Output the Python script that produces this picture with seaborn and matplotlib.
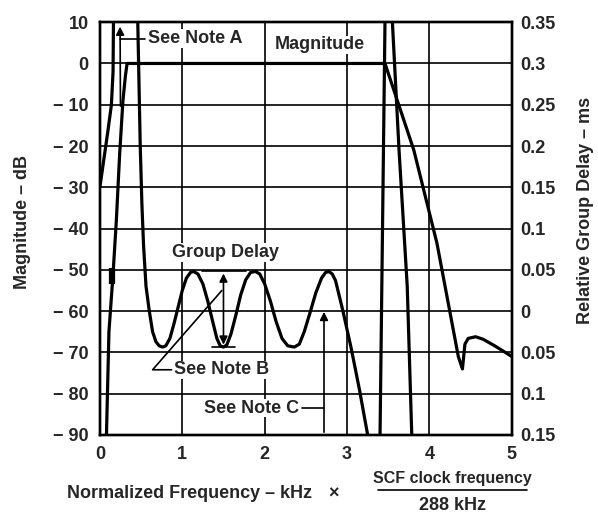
import matplotlib
matplotlib.use("Agg")
import matplotlib.pyplot as plt
import seaborn as sns
import pandas as pd

# Magnitude response (dB, left axis)
mag_freq = [0.08, 0.11, 0.16, 0.20, 0.24, 0.28, 0.31, 0.33, 1.0, 2.0, 3.0, 3.46,
            3.81, 4.09, 4.35, 4.40, 4.43, 4.47, 4.56, 4.65, 4.80, 5.0]
mag_db = [-90, -65, -51, -38, -22, -9, -3, 0, 0, 0, 0, 0,
          -21, -43.5, -71, -74, -68, -66.6, -66.2, -66.8, -68.5, -71]

# Relative group delay (ms, right axis), drawn as separate branches
gd_low_freq = [0.0, 0.05, 0.10, 0.14, 0.16, 0.165]
gd_low_ms = [0.15, 0.185, 0.22, 0.25, 0.29, 0.35]

gd_band_freq = [0.46, 0.47, 0.49, 0.51, 0.53, 0.56, 0.60, 0.64, 0.68, 0.72, 0.76, 0.80,
                0.85, 0.90, 0.95, 1.00, 1.05, 1.10, 1.14, 1.19, 1.25, 1.31, 1.37, 1.42,
                1.46, 1.50, 1.54, 1.59, 1.65, 1.71, 1.77, 1.83, 1.89, 1.94, 2.00, 2.07,
                2.14, 2.21, 2.28, 2.36, 2.42, 2.48, 2.55, 2.62, 2.69, 2.74, 2.78, 2.82,
                2.86, 2.95, 3.05, 3.15, 3.25]
gd_band_ms = [0.35, 0.30, 0.20, 0.13, 0.08, 0.03, 0.0, -0.025, -0.037, -0.042, -0.0435, -0.042,
              -0.033, -0.015, 0.005, 0.025, 0.040, 0.047, 0.048, 0.045, 0.033, 0.012, -0.013, -0.033,
              -0.042, -0.0435, -0.041, -0.028, -0.005, 0.020, 0.038, 0.047, 0.048, 0.045, 0.033, 0.012,
              -0.013, -0.033, -0.042, -0.0435, -0.040, -0.025, -0.002, 0.022, 0.040, 0.047, 0.048, 0.045,
              0.037, 0.0, -0.045, -0.095, -0.15]

gd_edge_freq = [3.40, 3.46]
gd_edge_ms = [-0.15, 0.35]

gd_stop_freq = [3.55, 3.63, 3.73, 3.785]
gd_stop_ms = [0.35, 0.196, 0.03, -0.15]

x_ticks = [0, 1, 2, 3, 4, 5]
db_ticks = [10, 0, -10, -20, -30, -40, -50, -60, -70, -80, -90]
db_labels = ["10", "0", "\u2212 10", "\u2212 20", "\u2212 30", "\u2212 40", "\u2212 50",
             "\u2212 60", "\u2212 70", "\u2212 80", "\u2212 90"]
ms_ticks = [0.35, 0.30, 0.25, 0.20, 0.15, 0.10, 0.05, 0.0, -0.05, -0.10, -0.15]
ms_labels = ["0.35", "0.3", "0.25", "0.2", "0.15", "0.1", "0.05", "0", "0.05", "0.1", "0.15"]

sns.set_style("white")
plt.rcParams["font.family"] = ["Liberation Sans", "DejaVu Sans"]
plt.rcParams["font.weight"] = "bold"
FS = 13
LW = 2.3

fig = plt.figure(figsize=(5.98, 5.16), dpi=100)
ax = fig.add_axes([0.167, 0.157, 0.689, 0.800])
ax2 = ax.twinx()

ax.set_xlim(0, 5)
ax.set_ylim(-90, 10)
ax2.set_ylim(-0.15, 0.35)

ax.set_xticks(x_ticks)
ax.set_xticklabels([str(t) for t in x_ticks], fontsize=FS, fontweight="bold")
ax.set_yticks(db_ticks)
ax.set_yticklabels(db_labels, fontsize=FS, fontweight="bold")
ax2.set_yticks(ms_ticks)
ax2.set_yticklabels(ms_labels, fontsize=FS, fontweight="bold")
ax.tick_params(length=0, pad=8)
ax2.tick_params(length=0, pad=6)
ax.grid(True, color="black", lw=1.2)

for a in (ax, ax2):
    for s in a.spines.values():
        s.set_color("black")
        s.set_linewidth(1.7)

# curves
mag_df = pd.DataFrame({"f": mag_freq, "v": mag_db})
sns.lineplot(data=mag_df, x="f", y="v", ax=ax, color="black", lw=LW, sort=False, estimator=None)
for fx, fy in [(gd_low_freq, gd_low_ms), (gd_band_freq, gd_band_ms),
               (gd_edge_freq, gd_edge_ms), (gd_stop_freq, gd_stop_ms)]:
    sns.lineplot(x=fx, y=fy, ax=ax2, color="black", lw=LW, sort=False, estimator=None)
ax.plot([0.145, 0.145], [-49.5, -53.5], color="black", lw=4.5, solid_capstyle="butt")

ax.set_xlabel("")
ax.set_ylabel("Magnitude \u2013 dB", fontsize=FS, fontweight="bold")
ax.yaxis.set_label_coords(-0.168, 0.515)
ax2.set_ylabel("Relative Group Delay \u2013 ms", fontsize=FS, fontweight="bold", rotation=90)
ax2.yaxis.set_label_coords(1.158, 0.545)

# Note A
ax.annotate("", xy=(0.245, 9.6), xytext=(0.25, -11),
            arrowprops=dict(arrowstyle="-|>", color="black", lw=1.2, mutation_scale=12))
ax.plot([0.25, 0.55], [6, 6], color="black", lw=1.2)
ax.text(0.58, 6, "See Note A", fontsize=FS, fontweight="bold", va="center", ha="left",
        bbox=dict(facecolor="white", edgecolor="none", pad=0.5))

ax.text(2.67, 4.5, "Magnitude", fontsize=FS, fontweight="bold", va="center", ha="center",
        bbox=dict(facecolor="white", edgecolor="none", pad=0.5))

# Group delay ripple marker
ax2.plot([1.24, 1.77], [0.049, 0.049], color="black", lw=1.2)
ax2.plot([1.36, 1.64], [-0.044, -0.044], color="black", lw=1.2)
ax2.annotate("", xy=(1.5, 0.049), xytext=(1.5, -0.044),
             arrowprops=dict(arrowstyle="<|-|>", color="black", lw=1.2, mutation_scale=12))
ax.text(1.52, -45.8, "Group Delay", fontsize=FS, fontweight="bold", va="center", ha="center",
        bbox=dict(facecolor="white", edgecolor="none", pad=0.5))

# Note B
ax.plot([1.48, 0.64, 0.87], [-55, -74.2, -74.2], color="black", lw=1.2)
ax.text(0.9, -74.2, "See Note B", fontsize=FS, fontweight="bold", va="center", ha="left",
        bbox=dict(facecolor="white", edgecolor="none", pad=0.5))

# Note C
ax.annotate("", xy=(2.72, -59.5), xytext=(2.72, -90),
            arrowprops=dict(arrowstyle="-|>", color="black", lw=1.2, mutation_scale=12))
ax.plot([2.45, 2.72], [-83.5, -83.5], color="black", lw=1.2)
ax.text(2.42, -83.5, "See Note C", fontsize=FS, fontweight="bold", va="center", ha="right",
        bbox=dict(facecolor="white", edgecolor="none", pad=0.5))

# x label with fraction
fig.text(0.112, 0.043, "Normalized Frequency \u2013 kHz", fontsize=FS, fontweight="bold",
         ha="left", va="center")
fig.text(0.558, 0.043, "\u00d7", fontsize=FS, fontweight="bold", ha="center", va="center")
fig.text(0.757, 0.072, "SCF clock frequency", fontsize=11.5, fontweight="bold", ha="center", va="center")
fig.text(0.757, 0.020, "288 kHz", fontsize=FS, fontweight="bold", ha="center", va="center")
fig.add_artist(plt.Line2D([0.632, 0.882], [0.050, 0.050], transform=fig.transFigure,
                          color="black", lw=1.2))

fig.savefig("out.png", dpi=100)
